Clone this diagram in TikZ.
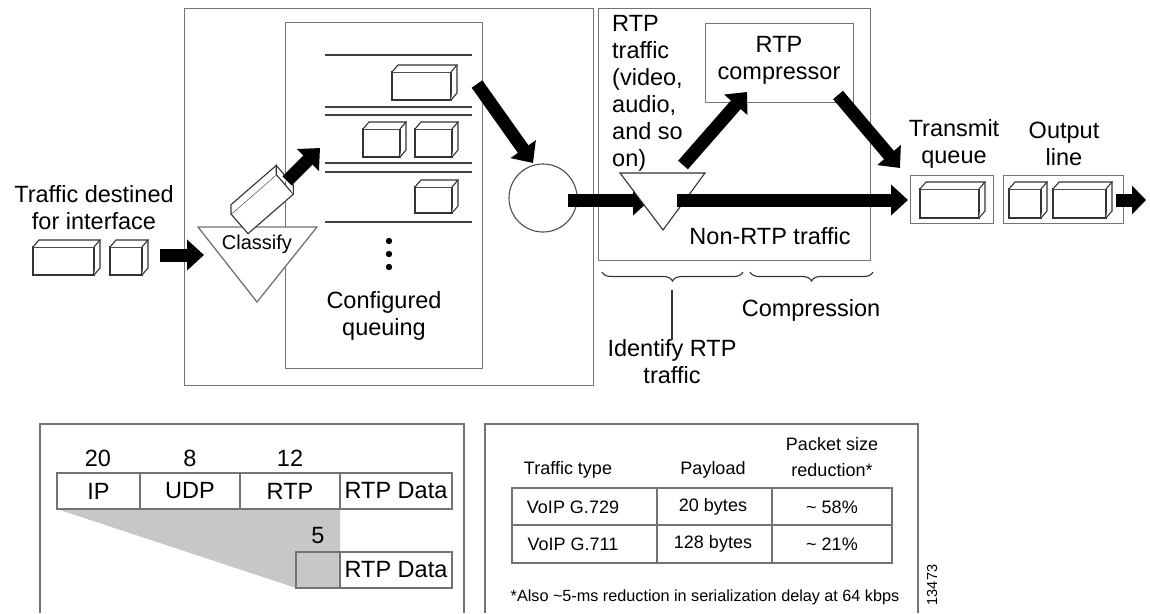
\documentclass[tikz,border=0pt]{standalone}
\usepackage{fontspec}
\setmainfont{Liberation Sans}
\usetikzlibrary{arrows.meta,decorations.pathreplacing}
\newcommand\pkt[4]{%
  \draw[pk] (#1,#2+7) rectangle (#3-6,#4);
  \draw[pk] (#1,#2+7) -- (#1+6,#2) -- (#3,#2) -- (#3-6,#2+7);
  \draw[pk] (#3,#2) -- (#3,#4-7) -- (#3-6,#4);
}
\tikzset{
  lbl/.style={font=\fontsize{23.5}{27}\selectfont, align=center, inner sep=0pt},
  tbl/.style={font=\fontsize{18}{26}\selectfont, align=center, inner sep=0pt},
  frame/.style={draw=black!55, line width=1.3pt},
  pk/.style={draw=black!80, line width=1.1pt, fill=white},
  qline/.style={draw=black!75, line width=1.6pt},
  blk/.style={line width=13pt, -{Triangle[length=17pt,width=30pt]}},
}
\begin{document}
\begin{tikzpicture}[x=1pt,y=-1pt]
\useasboundingbox (0,0) rectangle (1150,613);

% ---------- main frames ----------
\node[frame, anchor=north west, minimum width=409pt, minimum height=377pt, inner sep=0pt] (cbox) at (184,8) {};
\node[frame, anchor=north west, minimum width=197pt, minimum height=346pt, inner sep=0pt] (qbox) at (285,22) {};
\node[frame, anchor=north west, minimum width=272pt, minimum height=252pt, inner sep=0pt] (rbox) at (598,8) {};
\node[frame, anchor=north west, minimum width=148pt, minimum height=79pt, inner sep=0pt] (comp) at (705,23) {};

% ---------- input ----------
\node[lbl] (tin) at (94,208) {Traffic destined\\for interface};
\pkt{33}{240}{100}{275}
\pkt{110}{240}{148}{275}
\coordinate (a1s) at (160,255);
\coordinate (a1e) at (204,255);
\draw[blk] (a1s) -- (a1e);

% ---------- classify ----------
\draw[frame, fill=white] (198,227) -- (317,227) -- (257,302) -- cycle;
\node[font=\fontsize{20}{24}\selectfont, inner sep=0pt] (cls) at (257,244) {Classify};
\begin{scope}[shift={(231,214)}, rotate=41]
  \pkt{0}{-7}{66}{26}
\end{scope}
\coordinate (a2s) at (287,181);
\coordinate (a2e) at (320,148);
\draw[blk] (a2s) -- (a2e);

% ---------- queues ----------
\draw[qline] (325,55) -- (472,55);
\draw[qline] (325,107) -- (472,107);
\draw[qline] (325,115) -- (472,115);
\draw[qline] (325,163) -- (472,163);
\draw[qline] (325,172) -- (472,172);
\draw[qline] (325,222) -- (472,222);
\pkt{392}{65}{457}{100}
\pkt{363}{122}{406}{157}
\pkt{415}{122}{458}{157}
\pkt{415}{180}{458}{213}
\fill (389,241) circle (3.2pt);
\fill (389,254) circle (3.2pt);
\fill (389,267) circle (3.2pt);
\node[lbl] (cq) at (384,316) {Configured\\queuing};

% ---------- mux circle ----------
\node[circle, draw=black!70, line width=1.1pt, minimum size=68pt, inner sep=0pt] (mux) at (543,198) {};
\coordinate (a3s) at (477,84);
\coordinate (a3e) at (533,163);
\draw[blk] (a3s) -- (a3e);
\coordinate (a4s) at (568,200);
\coordinate (a4e) at (650,200);
\draw[blk] (a4s) -- (a4e);

% ---------- RTP section ----------
\node[font=\fontsize{23.5}{27}\selectfont, align=left, inner sep=0pt, anchor=west] (rtpt) at (612,93) {RTP\\traffic\\(video,\\audio,\\and so\\on)};
\draw[line width=1.1pt, draw=black!80, fill=white] (620,173) -- (705,173) -- (663,230) -- cycle;
\node[lbl] (comptxt) at (779,60) {RTP\\compressor};
\coordinate (a5s) at (683,165);
\coordinate (a5e) at (747,92);
\draw[blk] (a5s) -- (a5e);
\coordinate (a6s) at (838,95);
\coordinate (a6e) at (900,168);
\draw[blk] (a6s) -- (a6e);
\coordinate (a7s) at (677,200);
\coordinate (a7e) at (908,200);
\draw[blk] (a7s) -- (a7e);
\node[lbl] (nrtp) at (770,236) {Non-RTP traffic};

% braces
\draw[draw=black!80, line width=1.1pt, decorate, decoration={brace, amplitude=9pt}] (743,272) -- (602,272);
\draw[draw=black!80, line width=1.1pt, decorate, decoration={brace, amplitude=9pt}] (873,272) -- (750,272);
\node[lbl] (idt) at (672,362) {Identify RTP\\traffic};
\node[lbl] (cmpr) at (811,310) {Compression};
\coordinate (b1) at (672,290);
\draw[draw=black!80, line width=1.1pt] (b1) -- (idt.north);

% ---------- transmit queue / output line ----------
\node[lbl] (tqt) at (954,144) {Transmit\\queue};
\node[lbl] (olt) at (1064,144) {Output\\line};
\node[frame, line width=1.1pt, anchor=north west, minimum width=83pt, minimum height=48pt, inner sep=0pt] (tq) at (910,175) {};
\node[frame, line width=1.1pt, anchor=north west, minimum width=120pt, minimum height=48pt, inner sep=0pt] (ol) at (1003,175) {};
\pkt{920}{182}{985}{218}
\pkt{1009}{182}{1047}{218}
\pkt{1053}{182}{1112}{218}
\coordinate (a8s) at (1116,200);
\coordinate (a8e) at (1146,200);
\draw[line width=13pt, -{Triangle[length=14pt,width=28pt]}] (a8s) -- (a8e);

% ---------- bottom left: header compression ----------
\draw[frame] (40,613) -- (40,424) -- (464,424) -- (464,613);
\fill[black!22] (57,509) -- (340,509) -- (340,588) -- (296,588) -- cycle;
\draw[frame, line width=1.1pt] (57,473) rectangle (452,509);
\draw[frame, line width=1.1pt] (140,473) -- (140,509);
\draw[frame, line width=1.1pt] (240,473) -- (240,509);
\draw[frame, line width=1.1pt] (340,473) -- (340,509);
\draw[frame, line width=1.1pt] (296,552) rectangle (452,588);
\draw[frame, line width=1.1pt] (340,552) -- (340,588);
\node[lbl] (n20) at (98,458) {20};
\node[lbl] (n8) at (190,458) {8};
\node[lbl] (n12) at (290,458) {12};
\node[lbl] (hip) at (98.5,491) {IP};
\node[lbl] (hudp) at (190,491) {UDP};
\node[lbl] (hrtp) at (290,491) {RTP};
\node[lbl] (hdata) at (396,491) {RTP Data};
\node[lbl] (n5) at (318,536) {5};
\node[lbl] (cdata) at (396,570) {RTP Data};

% ---------- bottom right: table ----------
\draw[frame] (485,613) -- (485,424) -- (918,424) -- (918,613);
\node[tbl] (h1) at (568,470) {Traffic type};
\node[tbl] (h2) at (713,470) {Payload};
\node[tbl] (h3) at (832,457) {Packet size\\reduction*};
\draw[frame, line width=1.3pt] (512,488) rectangle (892,563);
\draw[frame, line width=1.6pt] (512,525) -- (892,525);
\draw[frame, line width=1.1pt] (657,488) -- (657,563);
\draw[frame, line width=1.1pt] (772,488) -- (772,563);
\node[tbl] (r11) at (573,507) {VoIP G.729};
\node[tbl] (r12) at (713,507) {20 bytes};
\node[tbl] (r13) at (832,507) {\textasciitilde{} 58\%};
\node[tbl] (r21) at (573,544) {VoIP G.711};
\node[tbl] (r22) at (713,544) {128 bytes};
\node[tbl] (r23) at (832,544) {\textasciitilde{} 21\%};
\node[font=\fontsize{16.2}{20}\selectfont, inner sep=0pt] (fn) at (705,597) {*Also \textasciitilde{}5-ms reduction in serialization delay at 64 kbps};
\node[font=\fontsize{14.5}{16}\selectfont, inner sep=0pt, rotate=90] (fig) at (932,585) {13473};
\end{tikzpicture}
\end{document}
